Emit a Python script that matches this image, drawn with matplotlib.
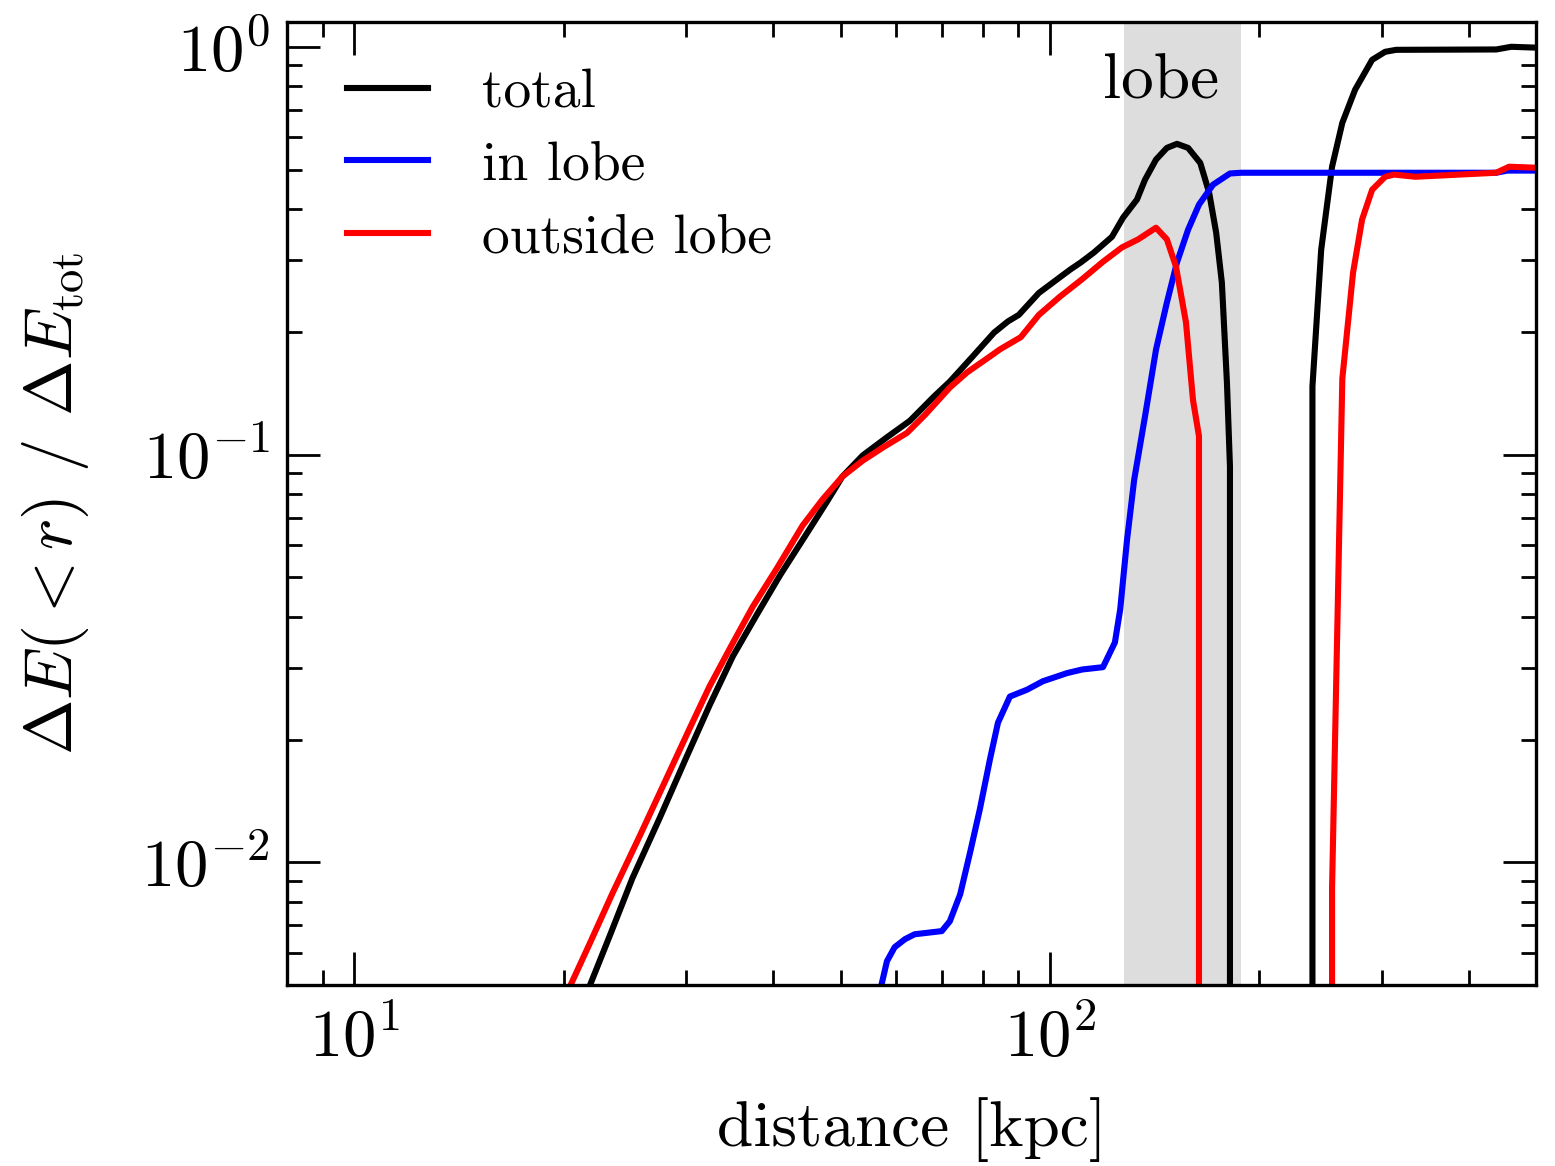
import matplotlib

matplotlib.use("Agg")
import matplotlib.pyplot as plt

# cumulative energy fraction vs distance
r_total = [21.5, 23.3, 25.1, 27.5, 30.0, 32.4, 35.0, 37.9, 40.9, 44.7, 47.7, 50.3,
           53.8, 58.2, 62.9, 68.1, 71.8, 77.2, 83.1, 87.0, 90.2, 96.4, 106.9, 110.8,
           115.7, 122.8, 127.4, 133.4, 137.0, 142.1, 147.3, 152.3, 158.0, 164.5,
           169.4, 173.4, 176.7, 179.7, 181.5, 182.0, 238.0, 238.5, 245.5, 254.5,
           263.3, 274.7, 290.6, 303.4, 314.6, 438.3, 460.6, 502.0]
e_total = [0.0047, 0.00662, 0.00914, 0.01289, 0.01807, 0.02425, 0.0320, 0.0405, 0.0505,
           0.0640, 0.0762, 0.0883, 0.0995, 0.110, 0.121, 0.1387, 0.151, 0.173, 0.199,
           0.212, 0.220, 0.249, 0.284, 0.296, 0.313, 0.342, 0.381, 0.422, 0.472, 0.529,
           0.565, 0.578, 0.565, 0.519, 0.439, 0.350, 0.264, 0.150, 0.0935, 0.0, 0.0,
           0.147, 0.318, 0.508, 0.651, 0.785, 0.929, 0.972, 0.983, 0.985, 1.0, 0.995]

r_in_lobe = [56.6, 58.3, 59.8, 61.9, 63.9, 69.9, 71.8, 74.3, 76.8, 79.3, 82.0, 84.2,
             87.6, 92.7, 97.7, 105.8, 111.2, 119.2, 124.0, 126.2, 129.1, 132.2, 137.0,
             142.1, 147.3, 152.3, 158.0, 163.8, 171.6, 181.5, 188.4, 438.3, 454.6, 502.0]
e_in_lobe = [0.0046, 0.00572, 0.00619, 0.00648, 0.00666, 0.00678, 0.00717, 0.00835,
             0.0106, 0.0135, 0.0179, 0.0220, 0.0255, 0.0265, 0.0278, 0.0291, 0.0297,
             0.0301, 0.0346, 0.0417, 0.0619, 0.0869, 0.124, 0.181, 0.236, 0.296, 0.356,
             0.410, 0.459, 0.489, 0.491, 0.491, 0.497, 0.497]

r_out_lobe = [20.0, 21.8, 23.5, 25.7, 28.1, 30.3, 32.4, 34.9, 37.4, 40.5, 44.1, 47.1,
              50.3, 53.8, 57.5, 62.3, 66.1, 71.8, 76.0, 82.0, 84.7, 90.8, 96.4, 103.4,
              111.2, 119.2, 126.9, 133.9, 142.1, 147.3, 151.8, 156.9, 160.6, 163.8,
              164.2, 254.3, 254.5, 263.3, 272.8, 281.1, 290.6, 303.4, 312.6, 335.2,
              438.3, 457.4, 502.0]
e_out_lobe = [0.0046, 0.00633, 0.00840, 0.01158, 0.01607, 0.0212, 0.0270, 0.0342, 0.0424,
              0.0526, 0.0670, 0.0776, 0.0883, 0.0966, 0.104, 0.113, 0.125, 0.146, 0.159,
              0.174, 0.181, 0.194, 0.220, 0.244, 0.269, 0.297, 0.322, 0.337, 0.360, 0.337,
              0.289, 0.211, 0.136, 0.111, 0.0, 0.0, 0.00864, 0.1535, 0.279, 0.377, 0.446,
              0.480, 0.486, 0.480, 0.491, 0.508, 0.505]

lobe_range = (128.0, 188.0)


def plot_energy_profile(output_path: str = "out.png") -> None:
    """
    Cumulative energy change inside radius r, split into lobe / non-lobe parts.
    """

    plt.rcParams["font.family"] = "serif"
    plt.rcParams["font.serif"] = ["cmr10", "DejaVu Serif"]
    plt.rcParams["mathtext.fontset"] = "cm"
    plt.rcParams["axes.formatter.use_mathtext"] = True

    fig = plt.figure(figsize=(7.775, 5.83), dpi=200)
    ax = fig.add_axes([0.1846, 0.1552, 0.8032, 0.8259])

    ax.axvspan(*lobe_range, color="#dddddd", lw=0, zorder=0)

    ax.plot(r_total, e_total, color="black", lw=2.2, label="total")
    ax.plot(r_in_lobe, e_in_lobe, color="blue", lw=2.2, label="in lobe")
    ax.plot(r_out_lobe, e_out_lobe, color="red", lw=2.2, label="outside lobe")

    ax.set_xscale("log")
    ax.set_yscale("log")
    ax.set_xlim(8, 500)
    ax.set_ylim(5e-3, 1.15)

    ax.text(144.5, 0.817, "lobe", fontsize=23.5, ha="center", va="center")

    ax.set_xlabel("distance [kpc]", fontsize=23.5, labelpad=10)
    ax.set_ylabel(r"$\Delta E(<r)$ / $\Delta E_{\rm tot}$", fontsize=24, labelpad=18)

    ax.tick_params(which="both", direction="in", top=True, right=True, width=1.0)
    ax.tick_params(which="major", length=12, labelsize=24)
    ax.tick_params(which="minor", length=5.5)
    ax.tick_params(axis="x", which="major", pad=8)
    ax.tick_params(axis="y", which="major", pad=6)
    for spine in ax.spines.values():
        spine.set_linewidth(1.2)

    ax.legend(loc="upper left", bbox_to_anchor=(0.048, 0.952), borderaxespad=0,
              borderpad=0, frameon=False, fontsize=20, handlelength=1.46,
              handletextpad=0.97, labelspacing=0.41)

    fig.savefig(output_path, dpi=200)
    plt.close(fig)


if __name__ == "__main__":
    plot_energy_profile()
